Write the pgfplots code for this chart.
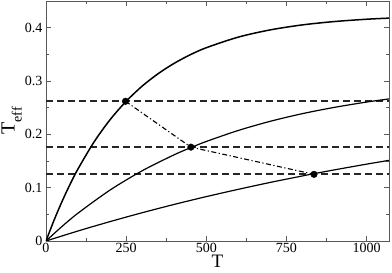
\documentclass[border=0pt]{standalone}
\usepackage{pgfplots}
\pgfplotsset{compat=1.18}
\usepackage{fontspec}
\setmainfont{Liberation Serif}
\begin{document}
\begin{tikzpicture}
\useasboundingbox (-46pt,-32pt) rectangle (346pt,241pt);
\begin{axis}[
  scale only axis, width=343pt, height=240pt,
  at={(0pt,0pt)}, anchor=south west,
  xmin=0, xmax=1070, ymin=0, ymax=0.45,
  xtick={0,250,500,750,1000}, ytick={0,0.1,0.2,0.3,0.4},
  minor x tick num=1, minor y tick num=1,
  tick align=inside,
  major tick length=5pt, minor tick length=3pt,
  axis line style={black!65, line width=0.8pt},
  every tick/.style={black!65, line width=0.8pt},
  /pgf/number format/assume math mode=true,
  /pgf/number format/1000 sep={},
  yticklabel style={/pgf/number format/fixed, /pgf/number format/precision=1, font=\fontsize{14}{16}\selectfont},
  xticklabel style={font=\fontsize{14}{16}\selectfont, yshift=1pt},
  scaled y ticks=false,
  xlabel={T}, ylabel={T\raisebox{-0.35em}{\fontsize{14}{14}\selectfont eff}},
  xlabel style={font=\fontsize{19}{21}\selectfont, inner sep=0pt, at={(axis description cs:0.5,-0.112)}, anchor=base},
  ylabel style={font=\fontsize{20}{22}\selectfont, at={(axis description cs:-0.1,0.5)}, anchor=center},
  clip=true,
]
% dashed horizontal levels
\addplot[black!85, line width=1.7pt, dash pattern=on 7pt off 4pt] coordinates {(0,0.262) (1070,0.262)};
\addplot[black!85, line width=1.7pt, dash pattern=on 7pt off 4pt] coordinates {(0,0.176) (1070,0.176)};
\addplot[black!85, line width=1.7pt, dash pattern=on 7pt off 4pt] coordinates {(0,0.125) (1070,0.125)};
% curves
\addplot[black, line width=1.5pt, smooth] coordinates {
(0,0) (25,0.0388) (50,0.0741) (75,0.1062) (100,0.1353) (150,0.1858) (200,0.2275) (250,0.2619)
(300,0.2904) (350,0.3138) (400,0.3332) (450,0.3492) (500,0.3624) (600,0.3823) (700,0.3959)
(800,0.4052) (900,0.4115) (1000,0.4158) (1070,0.4179)};
\addplot[black, line width=1.2pt, smooth] coordinates {
(0,0) (50,0.0273) (100,0.0523) (200,0.0956) (300,0.1317) (400,0.1617) (455,0.1759) (500,0.1866)
(600,0.2073) (700,0.2245) (800,0.2388) (900,0.2506) (1000,0.2605) (1070,0.2664)};
\addplot[black, line width=1.2pt, smooth] coordinates {
(0,0) (100,0.0188) (200,0.0364) (300,0.0530) (400,0.0686) (500,0.0832) (600,0.0969)
(700,0.1099) (800,0.1220) (835,0.1261) (900,0.1334) (1000,0.1441) (1070,0.1512)};
% dash-dot connector
\addplot[black, line width=1.1pt, dash pattern=on 5pt off 2.5pt on 1.2pt off 2.5pt] coordinates {(248,0.262) (452,0.176) (836,0.125)};
% dots
\addplot[only marks, mark=*, mark size=3.3pt, black] coordinates {(248,0.262) (452,0.176) (836,0.125)};
\end{axis}
\end{tikzpicture}
\end{document}
